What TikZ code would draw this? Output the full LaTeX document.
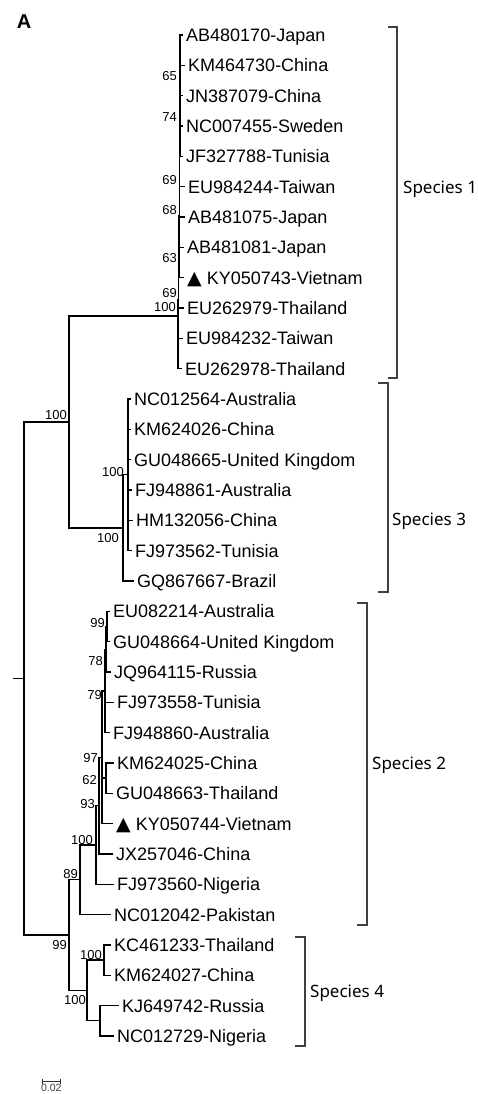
\documentclass[tikz,border=0pt]{standalone}
\usepackage{fontspec}
\setmainfont{Liberation Sans}
\newfontfamily\cladefont{Noto Sans}
\newfontfamily\symfont{DejaVu Sans}
\usetikzlibrary{positioning}
\tikzstyle{leaf} = [anchor=west, inner xsep=3pt, inner ysep=0pt, text height=13pt, text depth=0pt, font=\fontsize{18}{20}\selectfont]
\tikzstyle{boot} = [anchor=south east, inner sep=0pt, font=\fontsize{13}{14}\selectfont]
\tikzstyle{branch} = [line width=1.3pt, black]
\tikzstyle{bracket} = [line width=1.4pt, black!75]
\tikzstyle{clade} = [anchor=west, inner sep=0pt, text height=12.2pt, text depth=0pt, font=\cladefont\fontsize{17}{20}\selectfont]
\tikzstyle{scalebar} = [line width=1pt, black!80]
\newcommand{\vtri}{{\symfont\fontsize{19}{19}\selectfont ▲}\hspace{5pt}}

\begin{document}
\begin{tikzpicture}[x=1pt, y=-1pt]
    \useasboundingbox (0,0) rectangle (477,1094);
    \node (panel) [font=\fontsize{20}{22}\selectfont\bfseries] at (24,22) {A};

    \node (ab480170) [leaf] at (183,35) {AB480170-Japan};
    \node (km464730) [leaf] at (185,65.3) {KM464730-China};
    \node (jn387079) [leaf] at (183,95.7) {JN387079-China};
    \node (nc007455) [leaf] at (183,126) {NC007455-Sweden};
    \node (jf327788) [leaf] at (183,156.3) {JF327788-Tunisia};
    \node (eu984244) [leaf] at (185,186.7) {EU984244-Taiwan};
    \node (ab481075) [leaf] at (185,217) {AB481075-Japan};
    \node (ab481081) [leaf] at (184,247.3) {AB481081-Japan};
    \node (ky050743) [leaf] at (184,277.6) {\vtri KY050743-Vietnam};
    \node (eu262979) [leaf] at (184,308) {EU262979-Thailand};
    \node (eu984232) [leaf] at (183,338.3) {EU984232-Taiwan};
    \node (eu262978) [leaf] at (182,368.6) {EU262978-Thailand};

    \node (nc012564) [leaf] at (131,399) {NC012564-Australia};
    \node (km624026) [leaf] at (131,429.3) {KM624026-China};
    \node (gu048665) [leaf] at (131,459.6) {GU048665-United Kingdom};
    \node (fj948861) [leaf] at (132,490) {FJ948861-Australia};
    \node (hm132056) [leaf] at (133,520.3) {HM132056-China};
    \node (fj973562) [leaf] at (132,550.6) {FJ973562-Tunisia};
    \node (gq867667) [leaf] at (134,580.9) {GQ867667-Brazil};

    \node (eu082214) [leaf] at (110,611.3) {EU082214-Australia};
    \node (gu048664) [leaf] at (110,641.6) {GU048664-United Kingdom};
    \node (jq964115) [leaf] at (111,671.9) {JQ964115-Russia};
    \node (fj973558) [leaf] at (114,702.3) {FJ973558-Tunisia};
    \node (fj948860) [leaf] at (110,732.6) {FJ948860-Australia};
    \node (km624025) [leaf] at (114,762.9) {KM624025-China};
    \node (gu048663) [leaf] at (113,793.3) {GU048663-Thailand};
    \node (ky050744) [leaf] at (113,823.6) {\vtri KY050744-Vietnam};
    \node (jx257046) [leaf] at (113,853.9) {JX257046-China};
    \node (fj973560) [leaf] at (114,884.2) {FJ973560-Nigeria};
    \node (nc012042) [leaf] at (111,914.6) {NC012042-Pakistan};

    \node (kc461233) [leaf] at (111,944.9) {KC461233-Thailand};
    \node (km624027) [leaf] at (111,975.2) {KM624027-China};
    \node (kj649742) [leaf] at (119,1005.6) {KJ649742-Russia};
    \node (nc012729) [leaf] at (114,1035.9) {NC012729-Nigeria};

    \coordinate (n65) at (180.5,80.5);
    \coordinate (n74) at (180,121);
    \coordinate (n69a) at (179.5,186);
    \coordinate (n68) at (179.5,216);
    \coordinate (n63) at (179,262);
    \coordinate (n69b) at (178.5,300);
    \coordinate (s1) at (178,316);
    \coordinate (n100e) at (128,474.8);
    \coordinate (sp3) at (123,527.9);
    \coordinate (n13) at (69,422);
    \coordinate (n99) at (107,626.5);
    \coordinate (n78) at (106,649.2);
    \coordinate (n79) at (105,690.9);
    \coordinate (n62) at (106,778.1);
    \coordinate (n97) at (102,757.3);
    \coordinate (n93) at (99,805.6);
    \coordinate (n100b) at (96,844.9);
    \coordinate (n89) at (80,879.8);
    \coordinate (n100c) at (104,960.1);
    \coordinate (n100d) at (100,1020.8);
    \coordinate (n4) at (87,990.4);
    \coordinate (n99b) at (69,935.1);
    \coordinate (root) at (24,678.5);
    \coordinate (rootstub) at (13,678.5);

    \draw [branch] (n65) |- (km464730.west) (n65) |- (jn387079.west);
    \draw [branch] (n74) |- (ab480170.west) (n74) |- (n65) (n74) |- (nc007455.west) (n74) |- (jf327788.west);
    \draw [branch] (n69a) |- (n74) (n69a) |- (eu984244.west);
    \draw [branch] (n68) |- (n69a) (n68) |- (ab481075.west);
    \draw [branch] (n63) |- (n68) (n63) |- (ab481081.west) (n63) |- (ky050743.west);
    \draw [branch] (n69b) |- (n63) (n69b) |- (eu262979.west);
    \draw [branch] (s1) |- (n69b) (s1) |- (eu984232.west) (s1) |- (eu262978.west);
    \draw [branch] (n100e) |- (nc012564.west) (n100e) |- (km624026.west) (n100e) |- (gu048665.west) (n100e) |- (fj948861.west) (n100e) |- (hm132056.west) (n100e) |- (fj973562.west);
    \draw [branch] (sp3) |- (n100e) (sp3) |- (gq867667.west);
    \draw [branch] (n13) |- (s1) (n13) |- (sp3);
    \draw [branch] (n99) |- (eu082214.west) (n99) |- (gu048664.west);
    \draw [branch] (n78) |- (n99) (n78) |- (jq964115.west);
    \draw [branch] (n79) |- (n78) (n79) |- (fj973558.west) (n79) |- (fj948860.west);
    \draw [branch] (n62) |- (km624025.west) (n62) |- (gu048663.west);
    \draw [branch] (n97) |- (n79) (n97) |- (n62) (n97) |- (ky050744.west);
    \draw [branch] (n93) |- (n97) (n93) |- (jx257046.west);
    \draw [branch] (n100b) |- (n93) (n100b) |- (fj973560.west);
    \draw [branch] (n89) |- (n100b) (n89) |- (nc012042.west);
    \draw [branch] (n100c) |- (kc461233.west) (n100c) |- (km624027.west);
    \draw [branch] (n100d) |- (kj649742.west) (n100d) |- (nc012729.west);
    \draw [branch] (n4) |- (n100c) (n4) |- (n100d);
    \draw [branch] (n99b) |- (n89) (n99b) |- (n4);
    \draw [branch] (root) |- (n13) (root) |- (n99b);
    \draw [branch] (rootstub) -- (root);

    \node (b65) [boot] at (177,81) {65};
    \node (b74) [boot] at (177,122) {74};
    \node (b69a) [boot] at (177,185) {69};
    \node (b68) [boot] at (177,215) {68};
    \node (b63) [boot] at (177,263) {63};
    \node (b69b) [boot] at (177,298) {69};
    \node (bs1) [boot] at (176,312) {100};
    \node (b100e) [boot] at (124,477) {100};
    \node (bsp3) [boot] at (119,543) {100};
    \node (b13) [boot] at (67,420) {100};
    \node (b99) [boot] at (105,628) {99};
    \node (b78) [boot] at (103,666) {78};
    \node (b79) [boot] at (102,700) {79};
    \node (b97) [boot] at (98,763) {97};
    \node (b62) [boot] at (97,785) {62};
    \node (b93) [boot] at (95,809) {93};
    \node (b100b) [boot] at (93,845) {100};
    \node (b89) [boot] at (78,879) {89};
    \node (b99b) [boot] at (67,950) {99};
    \node (b100c) [boot] at (102,960) {100};
    \node (b4) [boot] at (86,1005) {100};

    \draw [bracket] (388,27) -- (397,27) -- (397,378) -- (388,378);
    \draw [bracket] (378,383) -- (388,383) -- (388,592) -- (378,592);
    \draw [bracket] (357,603) -- (367,603) -- (367,925) -- (357,925);
    \draw [bracket] (295,937) -- (305,937) -- (305,1046) -- (295,1046);
    \coordinate (br1) at (397,187);
    \coordinate (br3) at (388,519);
    \coordinate (br2) at (367,763);
    \coordinate (br4) at (305,991);
    \node (species1) [clade, right=6pt of br1] {Species 1};
    \node (species3) [clade, right=4pt of br3] {Species 3};
    \node (species2) [clade, right=5pt of br2] {Species 2};
    \node (species4) [clade, right=5pt of br4] {Species 4};

    \coordinate (sbl) at (42.5,1081);
    \coordinate (sbr) at (60,1081);
    \coordinate (sbmid) at (51.25,1081);
    \draw [scalebar] (sbl) -- (sbr) (sbl) +(0,-2.5) -- +(0,2.5) (sbr) +(0,-2.5) -- +(0,2.5);
    \node (sblabel) [below=3pt of sbmid, inner sep=0pt, text=black!75, font=\fontsize{10.5}{11}\selectfont] {0.02};
\end{tikzpicture}
\end{document}
